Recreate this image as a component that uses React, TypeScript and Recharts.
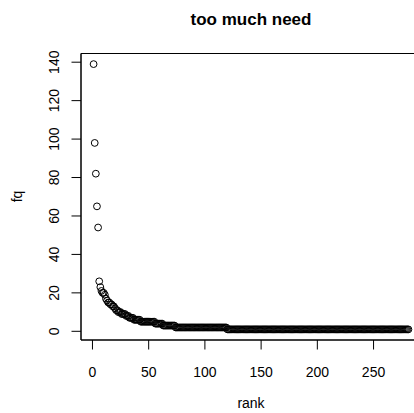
import React from "react";
import {
  ScatterChart,
  Scatter,
  XAxis,
  YAxis,
  ReferenceArea,
} from "recharts";

// frequency by rank (rank = position in list)
const fq = [
  139, 98, 82, 65, 54,
  26, 23, 21, 20, 20, 19, 17, 16, 15, 15, 14, 14, 13, 13, 12,
  11, 11, 10, 10, 10, 9, 9, 9, 9, 8,
  8, 8, 7, 7, 7, 7, 6, 6, 6, 6, 6, 6,
  5, 5, 5, 5, 5, 5, 5, 5, 5, 5, 5, 5, 5,
  4, 4, 4, 4, 4, 4, 4,
  3, 3, 3, 3, 3, 3, 3, 3, 3, 3, 3,
  2, 2, 2, 2, 2, 2, 2, 2, 2, 2, 2, 2, 2, 2, 2, 2, 2, 2, 2, 2,
  2, 2, 2, 2, 2, 2, 2, 2, 2, 2, 2, 2, 2, 2, 2, 2, 2, 2, 2, 2,
  2, 2, 2, 2, 2, 2,
  1, 1, 1, 1, 1, 1, 1, 1, 1, 1, 1, 1, 1, 1, 1, 1, 1, 1, 1, 1,
  1, 1, 1, 1, 1, 1, 1, 1, 1, 1, 1, 1, 1, 1, 1, 1, 1, 1, 1, 1,
  1, 1, 1, 1, 1, 1, 1, 1, 1, 1, 1, 1, 1, 1, 1, 1, 1, 1, 1, 1,
  1, 1, 1, 1, 1, 1, 1, 1, 1, 1, 1, 1, 1, 1, 1, 1, 1, 1, 1, 1,
  1, 1, 1, 1, 1, 1, 1, 1, 1, 1, 1, 1, 1, 1, 1, 1, 1, 1, 1, 1,
  1, 1, 1, 1, 1, 1, 1, 1, 1, 1, 1, 1, 1, 1, 1, 1, 1, 1, 1, 1,
  1, 1, 1, 1, 1, 1, 1, 1, 1, 1, 1, 1, 1, 1, 1, 1, 1, 1, 1, 1,
  1, 1, 1, 1, 1, 1, 1, 1, 1, 1, 1, 1, 1, 1, 1, 1, 1, 1, 1, 1,
  1, 1,
];

const xTicks = [0, 50, 100, 150, 200, 250];
const yTicks = [0, 20, 40, 60, 80, 100, 120, 140];

// R-style axis ranges (data range plus 4% each side)
const xDomain = [-10.2, 292.2];
const yDomain = [-4.52, 144.52];

const FONT = "'Liberation Sans', Arial, Helvetica, sans-serif";

const data = fq.map((v, i) => ({ rank: i + 1, fq: v }));

const XTick = ({ x, payload }: any) => (
  <text x={x} y={377} textAnchor="middle" fontSize={14} fontFamily={FONT} fill="#000">
    {payload.value}
  </text>
);

const YTick = ({ y, payload }: any) => (
  <text
    x={59}
    y={y}
    transform={`rotate(-90 59 ${y})`}
    textAnchor="middle"
    fontSize={14}
    fontFamily={FONT}
    fill="#000"
  >
    {payload.value}
  </text>
);

const OpenCircle = (props: any) => (
  <circle cx={props.cx} cy={props.cy} r={3.4} fill="none" stroke="#000" strokeWidth={1} />
);

export default function App() {
  return (
    <div
      style={{
        position: "absolute",
        left: 0,
        top: 0,
        width: 414,
        height: 413,
        overflow: "hidden",
        background: "#fff",
      }}
    >
      <ScatterChart
        width={430}
        height={413}
        margin={{ top: 53.5, right: 9, bottom: 0, left: 0 }}
      >
        <XAxis
          type="number"
          dataKey="rank"
          domain={xDomain}
          ticks={xTicks}
          allowDataOverflow
          tickSize={9.5}
          tickLine={{ stroke: "#000" }}
          axisLine={{ stroke: "#000" }}
          tick={<XTick />}
          height={73}
        />
        <YAxis
          type="number"
          dataKey="fq"
          domain={yDomain}
          ticks={yTicks}
          allowDataOverflow
          tickSize={9.5}
          tickLine={{ stroke: "#000" }}
          axisLine={{ stroke: "#000" }}
          tick={<YTick />}
          width={81}
        />
        <ReferenceArea
          x1={xDomain[0]}
          x2={xDomain[1]}
          y1={yDomain[0]}
          y2={yDomain[1]}
          fill="none"
          stroke="#000"
          strokeWidth={1}
          fillOpacity={0}
        />
        <Scatter data={data} shape={<OpenCircle />} isAnimationActive={false} />
      </ScatterChart>
      <svg
        width={414}
        height={413}
        style={{ position: "absolute", left: 0, top: 0, pointerEvents: "none" }}
      >
        <text x={251} y={25} textAnchor="middle" fontSize={17} fontWeight="bold" fontFamily={FONT}>
          too much need
        </text>
        <text x={251} y={408} textAnchor="middle" fontSize={14} fontFamily={FONT}>
          rank
        </text>
        <text
          x={22}
          y={196.5}
          transform="rotate(-90 22 196.5)"
          textAnchor="middle"
          fontSize={14}
          fontFamily={FONT}
        >
          fq
        </text>
      </svg>
    </div>
  );
}
